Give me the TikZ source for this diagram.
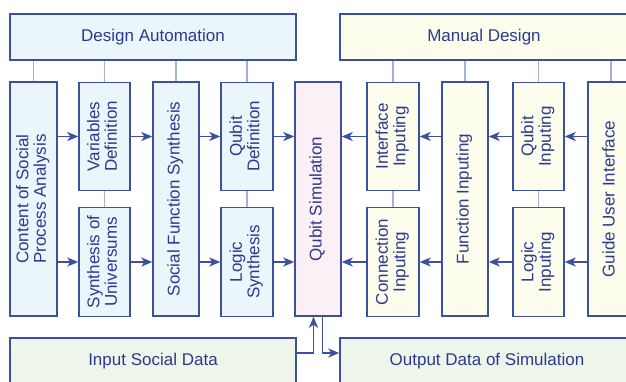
\documentclass[tikz,border=0pt]{standalone}
\usepackage{fontspec}
\setmainfont{Liberation Sans}
\usetikzlibrary{arrows.meta}
\definecolor{bord}{HTML}{3D4F9F}
\definecolor{txt}{HTML}{2D3A8C}
\definecolor{lite}{HTML}{A3B2D2}
\definecolor{fauto}{HTML}{EAF5FC}
\definecolor{fman}{HTML}{FDFDEE}
\definecolor{fsim}{HTML}{FBF0F6}
\definecolor{fdata}{HTML}{EEF6EC}
\newcommand{\mytxt}[1]{\rotatebox{90}{\begin{tabular}{@{}c@{}}#1\end{tabular}}}
\begin{document}
\begin{tikzpicture}[x=1pt,y=-1pt,
  box/.style={draw=bord, line width=1.4pt, inner sep=0pt, text=txt,
    font=\fontsize{17}{17}\selectfont, align=center},
  auto/.style={box, fill=fauto},
  man/.style={box, fill=fman},
  full/.style={minimum height=234pt},
  half/.style={minimum height=108.5pt},
  arr/.style={draw=bord, line width=1.6pt, -{Stealth[length=11pt,width=9pt,inset=3pt]}},
  lnk/.style={draw=lite, line width=1.5pt}]
\useasboundingbox (0,0) rectangle (626,381);
% top boxes
\node[auto, minimum width=286pt, minimum height=46pt] (da) at (153,37) {Design Automation};
\node[man, minimum width=288pt, minimum height=46pt] (md) at (484,37) {Manual Design};
% left columns
\node[auto, full, minimum width=47pt] (content) at (33.5,199) {\mytxt{Content of Social\\Process Analysis}};
\node[auto, half, minimum width=51pt] (vardef) at (104.5,136.5) {\mytxt{Variables\\Definition}};
\node[auto, half, minimum width=51pt] (synuni) at (104.5,262) {\mytxt{Synthesis of\\Universums}};
\node[auto, full, minimum width=46pt] (socfun) at (176,199) {\mytxt{Social Function Synthesis}};
\node[auto, half, minimum width=52pt] (qubdef) at (247,136.5) {\mytxt{Qubit\\Definition}};
\node[auto, half, minimum width=52pt] (logsyn) at (247,262) {\mytxt{Logic\\Synthesis}};
% centre
\node[box, fill=fsim, full, minimum width=46pt] (qsim) at (318,199) {\mytxt{Qubit Simulation}};
% right columns
\node[man, half, minimum width=52pt] (iface) at (393,136.5) {\mytxt{Interface\\Inputing}};
\node[man, half, minimum width=52pt] (conn) at (393,262) {\mytxt{Connection\\Inputing}};
\node[man, full, minimum width=46pt] (funcin) at (465,199) {\mytxt{Function Inputing}};
\node[man, half, minimum width=51pt] (qubin) at (538.5,136.5) {\mytxt{Qubit\\Inputing}};
\node[man, half, minimum width=51pt] (login) at (538.5,262) {\mytxt{Logic\\Inputing}};
\node[man, full, minimum width=46pt] (guide) at (611,199) {\mytxt{Guide User Interface}};
% bottom boxes
\node[box, fill=fdata, minimum width=286pt, minimum height=46pt] (indata) at (153,361) {Input Social Data};
\node[box, fill=fdata, minimum width=294pt, minimum height=46pt] (outdata) at (487,361) {Output Data of Simulation};
% links from top boxes
\foreach \n in {content,vardef,socfun,qubdef} \draw[lnk] (da.south -| \n) -- (\n.north);
\foreach \n in {iface,funcin,qubin,guide} \draw[lnk] (md.south -| \n) -- (\n.north);
\draw[lnk] (vardef.south) -- (synuni.north);
\draw[lnk] (qubdef.south) -- (logsyn.north);
\draw[lnk] (iface.south) -- (conn.north);
\draw[lnk] (qubin.south) -- (login.north);
% arrows left
\draw[arr] (content.east |- vardef) -- (vardef.west);
\draw[arr] (content.east |- synuni) -- (synuni.west);
\draw[arr] (vardef.east) -- (socfun.west |- vardef);
\draw[arr] (synuni.east) -- (socfun.west |- synuni);
\draw[arr] (socfun.east |- qubdef) -- (qubdef.west);
\draw[arr] (socfun.east |- logsyn) -- (logsyn.west);
\draw[arr] (qubdef.east) -- (qsim.west |- qubdef);
\draw[arr] (logsyn.east) -- (qsim.west |- logsyn);
% arrows right
\draw[arr] (iface.west) -- (qsim.east |- iface);
\draw[arr] (conn.west) -- (qsim.east |- conn);
\draw[arr] (funcin.west |- iface) -- (iface.east);
\draw[arr] (funcin.west |- conn) -- (conn.east);
\draw[arr] (qubin.west) -- (funcin.east |- qubin);
\draw[arr] (login.west) -- (funcin.east |- login);
\draw[arr] (guide.west |- qubin) -- (qubin.east);
\draw[arr] (guide.west |- login) -- (login.east);
% bottom arrows
\coordinate (jin) at (313.5,353);
\coordinate (jout) at (322.5,353);
\draw[arr] (indata.east |- jin) -| (qsim.south -| jin);
\draw[arr] (qsim.south -| jout) |- (outdata.west |- jout);
\end{tikzpicture}
\end{document}
